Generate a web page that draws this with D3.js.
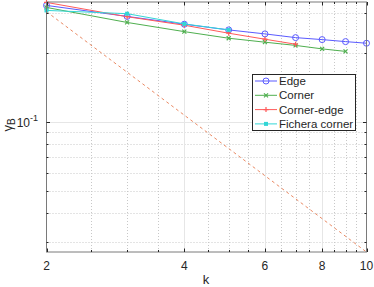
<!DOCTYPE html>
<html>
<meta charset="utf-8">
<script src="https://d3js.org/d3.v7.min.js"></script>
<style>
  body { margin: 0; background: #fff; }
  text { font-family: "Liberation Sans", Arial, sans-serif; fill: #262626; }
</style>
<body>
<div id="vis"></div>
<script>
// data
var kEdge = [2, 3, 4, 5, 6, 7, 8, 9, 10];
var edge = [0.3227, 0.2889, 0.2671, 0.2522, 0.2423, 0.2334, 0.2288, 0.2242, 0.2206];
var kCorner = [2, 3, 4, 5, 6, 7, 8, 9];
var corner = [0.3162, 0.2719, 0.2479, 0.2320, 0.2229, 0.2158, 0.2084, 0.2032];
var kCornerEdge = [2, 3, 4, 5, 6, 7];
var cornerEdge = [0.3326, 0.2880, 0.2644, 0.2440, 0.2297, 0.2184];
var kFichera = [2, 3, 4, 5];
var fichera = [0.3069, 0.2969, 0.2679, 0.2522];
var kRef = [2, 10];
var refLine = [0.303, 0.027];

var xMajor = [2, 4, 6, 8, 10];
var xMinor = [2.5, 3, 3.5, 4.5, 5, 5.5, 6.5, 7, 7.5, 8.5, 9, 9.5];
var yMajor = [0.1];
var yMinor = [0.03, 0.04, 0.05, 0.06, 0.07, 0.08, 0.09, 0.2, 0.3];

var W = 374, H = 287;
var pLeft = 46.5, pRight = 366.5, pTop = 2, pBottom = 252;

var svg = d3.select("#vis").append("svg")
  .attr("width", W).attr("height", H);

var x = d3.scaleLog().domain([2, 10]).range([pLeft, pRight]);
var y = d3.scaleLog().domain([0.027, 0.334]).range([pBottom, pTop]);

// grid
var grid = svg.append("g");
grid.selectAll(".xminor").data(xMinor).enter().append("line")
  .attr("x1", d => Math.round(x(d)) + 0.5).attr("x2", d => Math.round(x(d)) + 0.5)
  .attr("y1", pTop).attr("y2", pBottom)
  .attr("stroke", "#c8c8c8").attr("stroke-dasharray", "1,2");
grid.selectAll(".yminor").data(yMinor).enter().append("line")
  .attr("y1", d => Math.round(y(d)) + 0.5).attr("y2", d => Math.round(y(d)) + 0.5)
  .attr("x1", pLeft).attr("x2", pRight)
  .attr("stroke", "#c8c8c8").attr("stroke-dasharray", "1,2");
grid.selectAll(".xmajor").data(xMajor.slice(1, -1)).enter().append("line")
  .attr("x1", d => Math.round(x(d)) + 0.5).attr("x2", d => Math.round(x(d)) + 0.5)
  .attr("y1", pTop).attr("y2", pBottom)
  .attr("stroke", "#e6e6e6");
grid.selectAll(".ymajor").data(yMajor).enter().append("line")
  .attr("y1", d => Math.round(y(d)) + 0.5).attr("y2", d => Math.round(y(d)) + 0.5)
  .attr("x1", pLeft).attr("x2", pRight)
  .attr("stroke", "#e6e6e6");

// series
var line = d3.line().x(d => x(d[0])).y(d => y(d[1]));

svg.append("path")
  .datum(d3.zip(kRef, refLine))
  .attr("d", line).attr("fill", "none")
  .attr("stroke", "#ea8a64").attr("stroke-width", 1)
  .attr("stroke-dasharray", "3,3");

var series = [
  {name: "Edge", k: kEdge, v: edge, color: "#5b5bff", marker: "o"},
  {name: "Corner", k: kCorner, v: corner, color: "#4faf4f", marker: "x"},
  {name: "Corner-edge", k: kCornerEdge, v: cornerEdge, color: "#ff5a5a", marker: "+"},
  {name: "Fichera corner", k: kFichera, v: fichera, color: "#33d6d6", marker: "*"}
];

function drawMarker(g, type, cx, cy, color) {
  if (type == "o") {
    g.append("circle").attr("cx", cx).attr("cy", cy).attr("r", 3)
      .attr("fill", "none").attr("stroke", color);
  } else if (type == "x") {
    g.append("path").attr("d", "M" + (cx - 2) + "," + (cy - 2) + "L" + (cx + 2) + "," + (cy + 2) +
      "M" + (cx - 2) + "," + (cy + 2) + "L" + (cx + 2) + "," + (cy - 2))
      .attr("stroke", color).attr("stroke-width", 1.2);
  } else if (type == "+") {
    g.append("path").attr("d", "M" + (cx - 2.5) + "," + cy + "L" + (cx + 2.5) + "," + cy +
      "M" + cx + "," + (cy - 2.5) + "L" + cx + "," + (cy + 2.5))
      .attr("stroke", color).attr("stroke-width", 1.2);
  } else {
    g.append("rect").attr("x", cx - 2).attr("y", cy - 2).attr("width", 4).attr("height", 4)
      .attr("fill", color);
  }
}

series.forEach(function(s) {
  var g = svg.append("g");
  g.append("path").datum(d3.zip(s.k, s.v))
    .attr("d", line).attr("fill", "none")
    .attr("stroke", s.color).attr("stroke-width", 1);
  s.k.forEach(function(k, i) {
    drawMarker(g, s.marker, x(k), y(s.v[i]), s.color);
  });
});

// axes box
var axisColor = "#7a7a7a";
svg.append("rect").attr("x", pLeft).attr("y", pTop)
  .attr("width", pRight - pLeft).attr("height", pBottom - pTop)
  .attr("fill", "none").attr("stroke", axisColor).attr("stroke-width", 1);

var ticks = svg.append("g").attr("stroke", "#262626");
function xTick(d, len) {
  var px = Math.round(x(d)) + 0.5;
  ticks.append("line").attr("x1", px).attr("x2", px).attr("y1", pBottom).attr("y2", pBottom - len);
  ticks.append("line").attr("x1", px).attr("x2", px).attr("y1", pTop).attr("y2", pTop + len);
}
function yTick(d, len) {
  var py = Math.round(y(d)) + 0.5;
  ticks.append("line").attr("y1", py).attr("y2", py).attr("x1", pLeft).attr("x2", pLeft + len);
  ticks.append("line").attr("y1", py).attr("y2", py).attr("x1", pRight).attr("x2", pRight - len);
}
xMajor.forEach(d => xTick(d, 3.5));
xMinor.forEach(d => xTick(d, 2));
yMajor.forEach(d => yTick(d, 3.5));
yMinor.forEach(d => yTick(d, 2));

// tick labels
svg.selectAll(".xl").data(xMajor).enter().append("text")
  .attr("x", d => x(d)).attr("y", 270)
  .attr("text-anchor", "middle").attr("font-size", 12)
  .text(d => d);

var yl = svg.append("text").attr("x", 38).attr("y", 127)
  .attr("text-anchor", "end").attr("font-size", 12);
yl.append("tspan").text("10");
yl.append("tspan").attr("dy", -6).attr("font-size", 9).text("-1");

// axis titles
svg.append("text").attr("x", 206).attr("y", 284)
  .attr("text-anchor", "middle").attr("font-size", 13).text("k");

var yt = svg.append("text")
  .attr("transform", "translate(12,125) rotate(-90)")
  .attr("text-anchor", "middle").attr("font-size", 13);
yt.append("tspan").text("γ");
yt.append("tspan").attr("dy", 3).attr("font-size", 10).text("B");

// legend
var lg = svg.append("g");
lg.append("rect").attr("x", 252.5).attr("y", 74.5).attr("width", 103).attr("height", 56)
  .attr("fill", "#fff").attr("stroke", "#262626").attr("stroke-width", 1);
series.forEach(function(s, i) {
  var ly = 81 + i * 14.3;
  lg.append("line").attr("x1", 255).attr("x2", 277).attr("y1", ly).attr("y2", ly)
    .attr("stroke", s.color);
  drawMarker(lg, s.marker, 266, ly, s.color);
  lg.append("text").attr("x", 279).attr("y", ly + 4).attr("font-size", 11.5).text(s.name);
});
</script>
</body>
</html>
